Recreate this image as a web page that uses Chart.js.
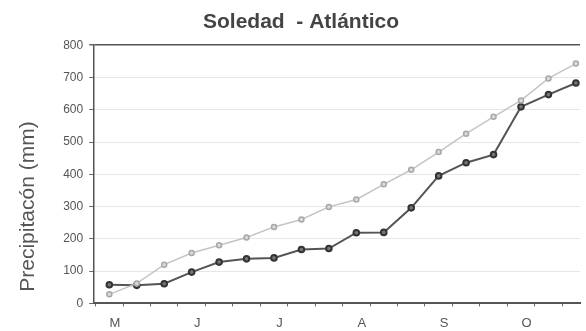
<!DOCTYPE html>
<html lang="es">
<head>
<meta charset="utf-8">
<title>Soledad - Atlántico</title>
<script src="https://cdn.jsdelivr.net/npm/chart.js@4"></script>
<style>
  html,body{margin:0;padding:0;background:#fff}
  #wrap{width:586px;height:331px}
</style>
</head>
<body>
<div id="wrap"><canvas id="c"></canvas></div>
<script>
// ---- data (dekads, May..October) ----
const monthLabels = ['M', 'J', 'J', 'A', 'S', 'O'];
const dekads = [0, 1, 2, 3, 4, 5, 6, 7, 8, 9, 10, 11, 12, 13, 14, 15, 16, 17];
const observed = [58, 56, 61, 97, 128, 138, 141, 167, 170, 219, 220, 296, 395, 436, 461, 609, 647, 683];
const reference = [28, 62, 120, 156, 180, 204, 237, 260, 299, 322, 369, 414, 469, 526, 578, 629, 697, 743];
const yTicks = [0, 100, 200, 300, 400, 500, 600, 700, 800];

const pts = (arr) => dekads.map((d, i) => ({ x: d, y: arr[i] }));
const FONT = 'Liberation Sans, Arial, sans-serif';
const X_MIN = -0.55, X_MAX = 17.15;

new Chart(document.getElementById('c'), {
  type: 'line',
  data: {
    datasets: [
      {
        label: 'Referencia',
        data: pts(reference),
        borderColor: '#c4c4c4',
        backgroundColor: '#dadada',
        pointBorderColor: '#a8a8a8',
        borderWidth: 1.5,
        pointRadius: 2.5,
        tension: 0,
      },
      {
        label: 'Observado',
        data: pts(observed),
        borderColor: '#555',
        backgroundColor: '#777',
        pointBorderColor: '#333',
        borderWidth: 2,
        pointRadius: 2.8,
        tension: 0,
      },
    ],
  },
  options: {
    responsive: true,
    maintainAspectRatio: false,
    animation: false,
    layout: { padding: { left: 16, right: 0, top: 4, bottom: -1 } },
    plugins: {
      legend: { display: false },
      tooltip: { enabled: false },
      title: {
        display: true,
        text: 'Soledad  - Atlántico',
        color: '#444',
        font: { family: FONT, size: 21, weight: 'bold' },
        padding: { top: 6, bottom: 10 },
      },
    },
    scales: {
      // tick marks between dekads
      x: {
        type: 'linear',
        min: X_MIN,
        max: X_MAX,
        weight: 1,
        afterBuildTicks: (s) => { s.ticks = dekads.map((v) => ({ value: v - 0.5 })); },
        ticks: { display: false },
        grid: { display: true, drawOnChartArea: false, drawTicks: true, tickLength: 3, color: '#666' },
        border: { display: true, color: '#555', width: 2 },
      },
      // month letters
      xm: {
        type: 'linear',
        position: 'bottom',
        min: X_MIN,
        max: X_MAX,
        weight: 2,
        afterBuildTicks: (s) => { s.ticks = monthLabels.map((m, i) => ({ value: i * 3 + 0.2 })); },
        ticks: {
          autoSkip: false,
          maxRotation: 0,
          color: '#555',
          font: { family: FONT, size: 13 },
          padding: 1,
          callback: (v, i) => monthLabels[i],
        },
        grid: { display: false },
        border: { display: false },
      },
      y: {
        min: 0,
        max: 800,
        afterBuildTicks: (s) => { s.ticks = yTicks.map((v) => ({ value: v })); },
        ticks: {
          color: '#555',
          font: { family: FONT, size: 12 },
          padding: 6,
        },
        title: {
          display: true,
          align: 'start',
          text: '\u00a0\u00a0Precipitacón (mm)',
          color: '#555',
          font: { family: FONT, size: 21 },
          padding: { top: 0, bottom: 16 },
        },
        grid: {
          color: (ctx) => (ctx.tick && ctx.tick.value === 800 ? '#555' : '#e6e6e6'),
          lineWidth: (ctx) => (ctx.tick && ctx.tick.value === 800 ? 1.5 : 1),
          tickLength: 5,
          tickColor: '#666',
        },
        border: { display: true, color: '#555', width: 1.5 },
      },
    },
  },
});
</script>
</body>
</html>
